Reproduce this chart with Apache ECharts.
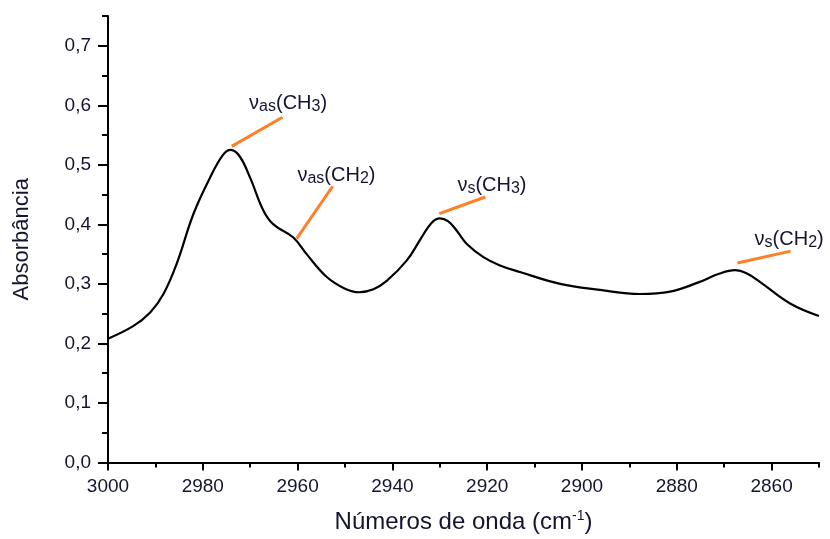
<!DOCTYPE html>
<html><head><meta charset="utf-8">
<script src="https://cdn.jsdelivr.net/npm/echarts@6/dist/echarts.min.js"></script>
<style>html,body{margin:0;padding:0;background:#fff}#c{width:830px;height:539px}</style>
</head><body><div id="c"></div>
<script>
// Spectrum (wavenumber cm-1, absorbance)
const wavenumbers = [3000, 2994.7, 2991.1, 2988.3, 2985.5, 2982.0, 2978.5, 2975.7, 2974.1, 2972.2, 2970.0, 2967.2, 2965.1, 2960.9, 2958.1, 2953.9, 2950.0, 2947.0, 2944.0, 2941.2, 2937.0, 2934.0, 2931.8, 2930.0, 2928.2, 2926.3, 2924.3, 2920.8, 2917.3, 2913.1, 2904.6, 2896.2, 2887.8, 2881.4, 2875.3, 2871.1, 2867.7, 2865.3, 2862.4, 2856.1, 2850];
const absorbance  = [0.208, 0.229, 0.252, 0.283, 0.334, 0.417, 0.478, 0.517, 0.525, 0.514, 0.478, 0.423, 0.400, 0.378, 0.350, 0.312, 0.292, 0.286, 0.291, 0.305, 0.339, 0.376, 0.402, 0.410, 0.405, 0.388, 0.367, 0.345, 0.331, 0.320, 0.300, 0.290, 0.283, 0.287, 0.303, 0.317, 0.323, 0.318, 0.303, 0.267, 0.246];
// Annotations: leader line start/end (data units), label anchor and text parts
const annNames   = ['as|CH3', 'as|CH2', 's|CH3', 's|CH2'];
const annStart   = [[2973.9, 0.531], [2960.2, 0.376], [2930.1, 0.418], [2867.2, 0.335]];
const annEnd     = [[2963.2, 0.580], [2952.6, 0.464], [2920.4, 0.446], [2856.0, 0.355]];
const annLabelAt = [[2962.0, 0.606], [2951.8, 0.486], [2919.0, 0.469], [2856.3, 0.378]];
// Tick values
const xMajor = [2860, 2880, 2900, 2920, 2940, 2960, 2980, 3000];
const xMinor = [2850, 2870, 2890, 2910, 2930, 2950, 2970, 2990];
const yMajor = [0, 0.1, 0.2, 0.3, 0.4, 0.5, 0.6, 0.7];
const yMinor = [0.05, 0.15, 0.25, 0.35, 0.45, 0.55, 0.65, 0.75];

const txt = '#141430';
const font = 'Liberation Sans, Arial, sans-serif';
const chart = echarts.init(document.getElementById('c'));
const lineData = wavenumbers.map((w, i) => [w, absorbance[i]]);
const markData = annStart.map((s, i) => [{coord: s}, {coord: annEnd[i]}]);
const labelData = annLabelAt.map((p, i) => [p[0], p[1], annNames[i]]);
const axLine = {show: true, lineStyle: {color: '#000', width: 2}};
chart.setOption({
  animation: false,
  grid: {left: 108, right: 11, top: 16, bottom: 71},
  xAxis: [{
    type: 'value', inverse: true, min: 2850, max: 3000,
    axisLine: axLine,
    axisTick: {show: true, customValues: xMajor, length: 8, lineStyle: {color: '#000', width: 2}},
    axisLabel: {customValues: xMajor, color: txt, fontFamily: font, fontSize: 19, margin: 15,
      formatter: v => String(v)},
    splitLine: {show: false},
    name: 'Números de onda (cm{sup|-1})', nameLocation: 'middle', nameGap: 47,
    nameTextStyle: {color: txt, fontFamily: font, fontSize: 24,
      rich: {sup: {fontSize: 14, verticalAlign: 'top', color: txt, fontFamily: font, padding: [0, 0, 11, 0]}}}
  }, {
    type: 'value', inverse: true, min: 2850, max: 3000, position: 'bottom',
    axisLine: {show: false},
    axisTick: {show: true, customValues: xMinor, length: 5, lineStyle: {color: '#000', width: 2}},
    axisLabel: {show: false}, splitLine: {show: false}
  }],
  yAxis: [{
    type: 'value', min: 0, max: 0.75,
    axisLine: axLine,
    axisTick: {show: true, customValues: yMajor, length: 10, lineStyle: {color: '#000', width: 2}},
    axisLabel: {customValues: yMajor, color: txt, fontFamily: font, fontSize: 19, margin: 17,
      formatter: v => v.toFixed(1).replace('.', ',')},
    splitLine: {show: false},
    name: 'Absorbância', nameLocation: 'middle', nameGap: 75,
    nameTextStyle: {color: txt, fontFamily: font, fontSize: 22}
  }, {
    type: 'value', min: 0, max: 0.75, position: 'left',
    axisLine: {show: false},
    axisTick: {show: true, customValues: yMinor, length: 6, lineStyle: {color: '#000', width: 2}},
    axisLabel: {show: false}, splitLine: {show: false}
  }],
  series: [{
    type: 'line', data: lineData, smooth: 0.4, symbol: 'none',
    lineStyle: {color: '#000', width: 2.2},
    markLine: {silent: true, symbol: 'none', label: {show: false},
      lineStyle: {color: '#ff7f27', width: 3, type: 'solid'}, data: markData}
  }, {
    type: 'scatter', data: labelData, symbolSize: 0, itemStyle: {opacity: 1},
    label: {show: true, position: 'inside', color: txt, opacity: 1, fontFamily: font,
      formatter: p => {
        const [sub, grp] = p.value[2].split('|');
        const base = grp.slice(0, 2), num = grp.slice(2);
        return '{n|ν}{s|' + sub + '}{n|(' + base + '}{s|' + num + '}{n|)}';
      },
      rich: {
        n: {fontSize: 20, color: txt, fontFamily: font, lineHeight: 24, verticalAlign: 'bottom'},
        s: {fontSize: 16, color: txt, fontFamily: font, lineHeight: 24, verticalAlign: 'bottom', padding: [0, 0, -1, 0]}
      }}
  }]
});
</script></body></html>
